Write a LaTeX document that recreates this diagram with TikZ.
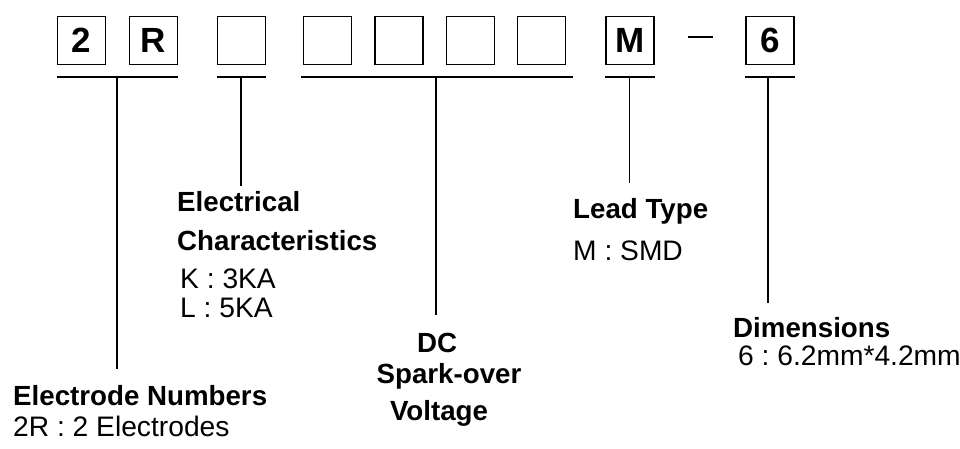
\documentclass[tikz,border=0pt]{standalone}
\usepackage{fontspec}
\setmainfont{Liberation Sans}
\usepackage{tikz}
\usetikzlibrary{positioning}
\frenchspacing
\tikzstyle{digit} = [draw, line width=1.5pt, minimum size=48pt, inner sep=0pt,
font=\fontsize{35}{35}\selectfont\bfseries]
\tikzstyle{bar} = [line width=1.6pt]
\tikzstyle{stem} = [line width=1.4pt]
\tikzstyle{title} = [anchor=base west, inner sep=0pt, font=\fontsize{27.7}{27.7}\selectfont\bfseries]
\tikzstyle{item} = [anchor=base west, inner sep=0pt, font=\fontsize{28.2}{28.2}\selectfont]

\begin{document}
\begin{tikzpicture}[x=1pt, y=-1pt]
        \useasboundingbox (0,0) rectangle (960,448);

        % 1. Casillas del codigo
        \node (b1) [digit] at (81.5,40.5) {2};
        \node (b2) [digit] at (153.5,40.5) {R};
        \node (b3) [digit] at (241.5,40.5) {};
        \node (b4) [digit] at (327.5,40.5) {};
        \node (b5) [digit] at (399,40.5) {};
        \node (b6) [digit] at (470.5,40.5) {};
        \node (b7) [digit] at (541.5,40.5) {};
        \node (bm) [digit] at (630,40.5) {M};
        \node (bs) [digit] at (770,40.5) {6};
        % guion entre M y 6
        \coordinate (dashl) at (688,37);
        \coordinate (dashr) at (713,37);
        \draw[line width=1.1pt] (dashl) -- (dashr);

        % 2. Lineas bajo las casillas
        \draw[bar] ([yshift=-12pt]b1.south west) -- ([yshift=-12pt]b2.south east);
        \draw[bar] ([yshift=-12pt]b3.south west) -- ([yshift=-12pt]b3.south east);
        \draw[bar] ([yshift=-12pt,xshift=-2pt]b4.south west) -- ([yshift=-12pt,xshift=7pt]b7.south east);
        \draw[bar] ([yshift=-12pt]bm.south west) -- ([yshift=-12pt]bm.south east);
        \draw[bar] ([yshift=-12pt]bs.south west) -- ([yshift=-12pt]bs.south east);

        % 3. Trazos verticales
        \coordinate (s1) at (117,78);  \coordinate (e1) at (117,369);
        \coordinate (s2) at (241,78);  \coordinate (e2) at (241,186);
        \coordinate (s3) at (436,78);  \coordinate (e3) at (436,315);
        \coordinate (s4) at (629.5,78);  \coordinate (e4) at (629.5,183);
        \coordinate (s5) at (768,78);  \coordinate (e5) at (768,303);
        \draw[stem] (s1) -- (e1);
        \draw[stem] (s2) -- (e2);
        \draw[stem] (s3) -- (e3);
        \draw[stem] (s4) -- (e4);
        \draw[stem] (s5) -- (e5);

        % 4. Textos
        \node (elecnum) [title] at (13,405) {Electrode Numbers};
        \node (elecval) [item] at (13,436) {2R : 2 Electrodes};

        \node (chartop) [title] at (177,211) {Electrical};
        \node (charbot) [title] at (177,250) {Characteristics};
        \node (chark) [item] at (180,288) {K : 3KA};
        \node (charl) [item] at (180,317) {L : 5KA};

        \node (dc) [title, anchor=base] at (437,352) {DC};
        \node (spark) [title, anchor=base] at (449,383) {Spark-over};
        \node (volt) [title, anchor=base] at (439,420) {Voltage};

        \node (lead) [title] at (573,218) {Lead Type};
        \node (leadval) [item] at (573,260) {M : SMD};

        \node (dim) [title] at (733,337) {Dimensions};
        \node (dimval) [item] at (738,365) {6 : 6.2mm*4.2mm};

    \end{tikzpicture}
\end{document}
